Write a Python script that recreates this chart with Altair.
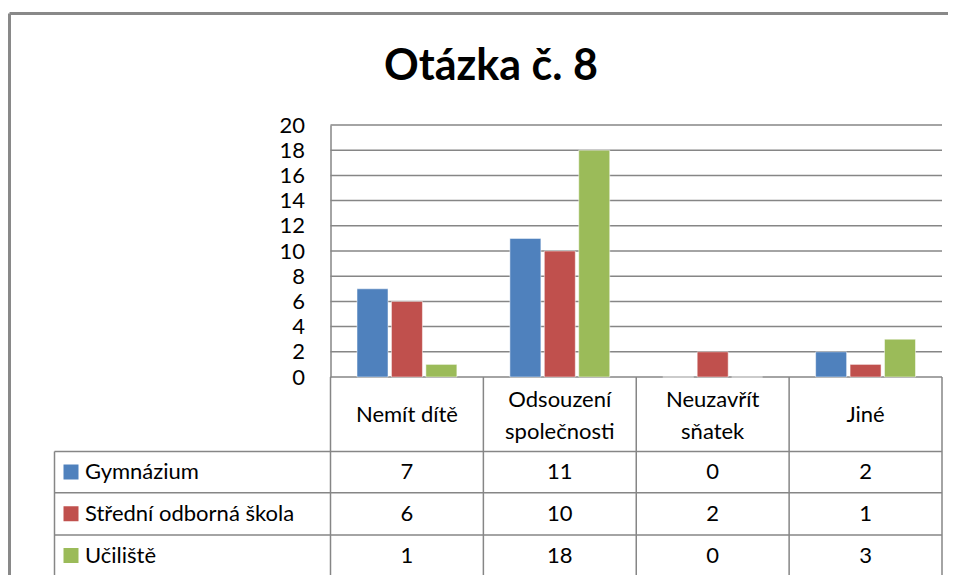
import altair as alt
import pandas as pd

# ---------------- data ----------------
categories = ["Nemít dítě", "Odsouzení společnosti", "Neuzavřít sňatek", "Jiné"]
category_labels = ["Nemít dítě", "Odsouzení\nspolečnosti", "Neuzavřít\nsňatek", "Jiné"]
series = ["Gymnázium", "Střední odborná škola", "Učiliště"]
gymnazium = [7, 11, 0, 2]
stredni_odborna_skola = [6, 10, 2, 1]
uciliste = [1, 18, 0, 3]
y_ticks = [0, 2, 4, 6, 8, 10, 12, 14, 16, 18, 20]
colors = ["#4F81BD", "#C0504D", "#9BBB59"]
title_text = "Otázka č. 8"

values_by_series = [gymnazium, stredni_odborna_skola, uciliste]
rows = []
for s, vals in zip(series, values_by_series):
    for c, v in zip(categories, vals):
        rows.append({"category": c, "series": s, "value": v})
df = pd.DataFrame(rows)
cat_df = pd.DataFrame({"category": categories, "label": category_labels})
ser_df = pd.DataFrame({"series": series})
tick_df = pd.DataFrame({"tick": y_ticks})
one = pd.DataFrame({"k": [0]})

# ---------------- layout (view pixels) ----------------
FONT = "Lato"
GRID = "#868686"
X0, X1 = 322.5, 934
Y0, Y20 = 369, 117
ROW_LINES = [443.5, 484.7, 527, 568]
TABLE_LEFT = 46.5

xscale = alt.Scale(domain=categories, range=[X0, X1], paddingInner=0, paddingOuter=0)
yscale = alt.Scale(domain=[0, 20], range=[Y0, Y20], nice=False, zero=True)
rowscale = alt.Scale(type="point", domain=series, range=[464, 547.5], padding=0)
cscale = alt.Scale(domain=series, range=colors)

grid = alt.Chart(tick_df).mark_rule(color=GRID, strokeWidth=1.5).encode(
    y=alt.Y("tick:Q", scale=yscale, axis=None),
    x=alt.value(X0), x2=alt.value(X1),
)

bars = alt.Chart(df).mark_bar(stroke="white", strokeWidth=0.5).encode(
    x=alt.X("category:N", scale=xscale, axis=None, sort=categories),
    xOffset=alt.XOffset("series:N", sort=series,
                        scale=alt.Scale(domain=series, paddingInner=0.1, paddingOuter=0.77)),
    y=alt.Y("value:Q", scale=yscale,
            axis=alt.Axis(values=y_ticks, offset=-X0, domain=True, domainColor=GRID,
                          domainWidth=1.5, ticks=False, grid=False, labelPadding=26,
                          labelFont=FONT, labelFontSize=22, labelColor="black",
                          title=None, labelBaseline="middle")),
    color=alt.Color("series:N", scale=cscale, legend=None),
)

title = alt.Chart(one).mark_text(font=FONT, fontWeight="bold", fontSize=43,
                                 align="center", baseline="alphabetic", color="black").encode(
    x=alt.value(483), y=alt.value(72), text=alt.value(title_text)
)

header_one = alt.Chart(cat_df).transform_filter(
    "indexof(datum.label, '\\n') < 0"
).mark_text(font=FONT, fontSize=22, align="center", baseline="middle", color="black").encode(
    x=alt.X("category:N", scale=xscale, axis=None),
    y=alt.value(407),
    text="label:N",
)

header_two = alt.Chart(cat_df).transform_filter(
    "indexof(datum.label, '\\n') >= 0"
).mark_text(font=FONT, fontSize=22, lineBreak="\n", lineHeight=32,
            align="center", baseline="middle", color="black").encode(
    x=alt.X("category:N", scale=xscale, axis=None),
    y=alt.value(392),
    text="label:N",
)

cells = alt.Chart(df).mark_text(font=FONT, fontSize=22, align="center",
                                baseline="middle", color="black").encode(
    x=alt.X("category:N", scale=xscale, axis=None),
    y=alt.Y("series:N", scale=rowscale, axis=None),
    text="value:Q",
)

row_labels = alt.Chart(ser_df).mark_text(font=FONT, fontSize=22, align="left",
                                         baseline="middle", color="black").encode(
    x=alt.value(77),
    y=alt.Y("series:N", scale=rowscale, axis=None),
    text="series:N",
)

keys = alt.Chart(ser_df).mark_square(size=225, opacity=1).encode(
    x=alt.value(63),
    y=alt.Y("series:N", scale=rowscale, axis=None),
    color=alt.Color("series:N", scale=cscale, legend=None),
)

col_lines = alt.Chart(cat_df).mark_rule(color=GRID, strokeWidth=1.5).encode(
    x=alt.X("category:N", scale=xscale, axis=None, bandPosition=0),
    y=alt.value(Y0), y2=alt.value(ROW_LINES[-1]),
)

def hrule(y, x1, x2, color=GRID, w=1.5):
    return alt.Chart(one).mark_rule(color=color, strokeWidth=w).encode(
        x=alt.value(x1), x2=alt.value(x2), y=alt.value(y))

def vrule(x, y1, y2, color=GRID, w=1.5):
    return alt.Chart(one).mark_rule(color=color, strokeWidth=w).encode(
        y=alt.value(y1), y2=alt.value(y2), x=alt.value(x))

decor = [hrule(y, TABLE_LEFT, X1) for y in ROW_LINES]
decor += [vrule(X1, Y0, ROW_LINES[-1]), vrule(TABLE_LEFT, ROW_LINES[0], ROW_LINES[-1])]
frame = [vrule(1.5, 5.5, 580, "#898989", 3), hrule(5.5, 1.5, 945, "#898989", 3)]

chart = alt.layer(
    grid, bars, title, header_one, header_two, cells, row_labels, keys, col_lines,
    *decor, *frame
).resolve_scale(y="independent").properties(
    width=940, height=567, autosize=alt.AutoSizeParams(type="none"), padding=0,
    background="white",
).configure_view(stroke=None)

chart.save("out.html", embed_options={"renderer": "svg", "actions": False})
